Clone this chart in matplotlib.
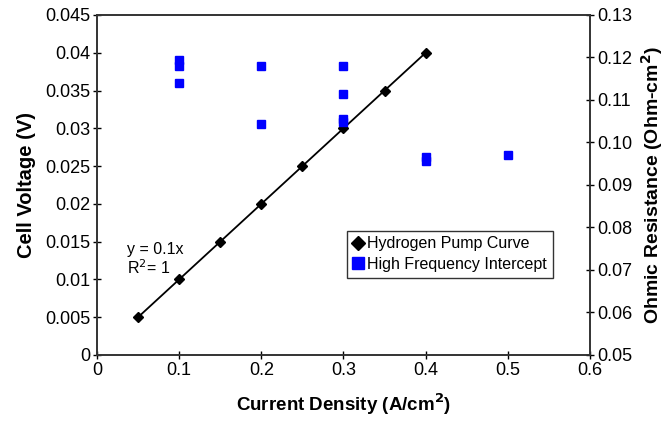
import matplotlib
matplotlib.use("Agg")
import matplotlib.pyplot as plt
from matplotlib.lines import Line2D

plt.rcParams['font.family'] = ['Liberation Sans', 'DejaVu Sans']

# hydrogen pump curve (left axis)
pump_current = [0.05, 0.10, 0.15, 0.20, 0.25, 0.30, 0.35, 0.40]
pump_voltage = [0.005, 0.010, 0.015, 0.020, 0.025, 0.030, 0.035, 0.040]

# high frequency intercept (right axis)
hfr_current = [0.1, 0.1, 0.1, 0.2, 0.2, 0.3, 0.3, 0.3, 0.3, 0.4, 0.4, 0.5]
hfr_resist = [0.1194, 0.1180, 0.1140, 0.1180, 0.1044, 0.1179, 0.1114,
              0.1055, 0.1048, 0.0966, 0.0957, 0.0970]

x_ticks = [0, 0.1, 0.2, 0.3, 0.4, 0.5, 0.6]
left_ticks = [0, 0.005, 0.01, 0.015, 0.02, 0.025, 0.03, 0.035, 0.04, 0.045]
left_labels = ['0', '0.005', '0.01', '0.015', '0.02', '0.025', '0.03', '0.035', '0.04', '0.045']
right_ticks = [0.05, 0.06, 0.07, 0.08, 0.09, 0.10, 0.11, 0.12, 0.13]
right_labels = ['0.05', '0.06', '0.07', '0.08', '0.09', '0.10', '0.11', '0.12', '0.13']

fig = plt.figure(figsize=(6.68, 4.22), dpi=100)
ax = fig.add_axes([0.1452, 0.1588, 0.738, 0.8057])
ax2 = ax.twinx()

ax.plot(pump_current, pump_voltage, color='black', lw=1.3, marker='D', ms=5.5)
ax2.plot(hfr_current, hfr_resist, ls='none', marker='s', ms=5.5, color='#0000ff')

ax.set_xlim(0, 0.6)
ax.set_ylim(0, 0.045)
ax2.set_ylim(0.05, 0.13)
ax.set_xticks(x_ticks)
ax.set_xticklabels(['0', '0.1', '0.2', '0.3', '0.4', '0.5', '0.6'])
ax.set_yticks(left_ticks)
ax.set_yticklabels(left_labels)
ax2.set_yticks(right_ticks)
ax2.set_yticklabels(right_labels)

for a in (ax, ax2):
    a.tick_params(direction='inout', length=6, width=1, labelsize=13, colors='black', pad=2)
    for s in a.spines.values():
        s.set_linewidth(1.2)
        s.set_color('#333333')

ax.set_xlabel('Current Density (A/cm$^\\mathbf{2}$)', fontsize=13.5, fontweight='bold', labelpad=9)
ax.set_ylabel('Cell Voltage (V)', fontsize=14.5, fontweight='bold', labelpad=6)
ax2.set_ylabel('Ohmic Resistance (Ohm-cm$^\\mathbf{2}$)', fontsize=14, fontweight='bold', labelpad=5)

ax.text(0.037, 0.0150, 'y = 0.1x\nR$^2$= 1', fontsize=11.5, va='top', ha='left', linespacing=1.1)

h1 = Line2D([], [], ls='none', marker='D', ms=7, color='black')
h2 = Line2D([], [], ls='none', marker='s', ms=9, color='#0000ff')
leg = ax.legend([h1, h2], ['Hydrogen Pump Curve', 'High Frequency Intercept'],
                loc='upper left', bbox_to_anchor=(0.508, 0.365), fontsize=11.5,
                frameon=True, fancybox=False, edgecolor='black', handlelength=0.6,
                handletextpad=0.3, borderpad=0.35, labelspacing=0.35, borderaxespad=0)
leg.get_frame().set_linewidth(1.0)

fig.savefig('out.png', dpi=100)
